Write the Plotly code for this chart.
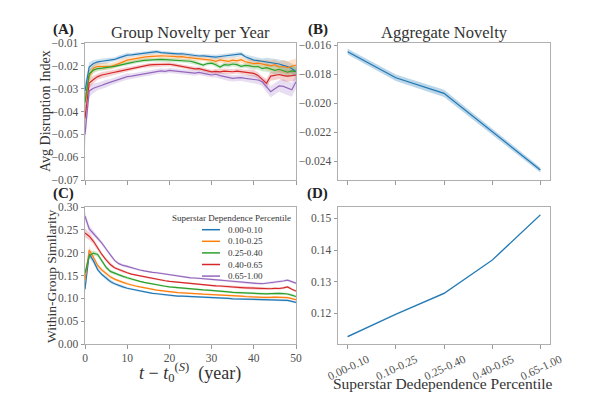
import plotly.graph_objects as go

years = list(range(51))
groups = ["0.00-0.10", "0.10-0.25", "0.25-0.40", "0.40-0.65", "0.65-1.00"]
colors = ["#1f77b4", "#ff7f0e", "#2ca02c", "#d62728", "#9467bd"]

# Panel A: avg disruption index per year
dis_blue = [-0.031, -0.0205, -0.019, -0.0183, -0.018, -0.0178, -0.0175, -0.0172, -0.0165, -0.016, -0.0153, -0.0152, -0.015, -0.0148, -0.0146, -0.0145, -0.0142, -0.0138, -0.0142, -0.0144, -0.0145, -0.0146, -0.0148, -0.0147, -0.015, -0.0153, -0.0155, -0.0157, -0.0156, -0.0158, -0.016, -0.0162, -0.0159, -0.0157, -0.0155, -0.0153, -0.0152, -0.0148, -0.016, -0.0168, -0.0175, -0.0177, -0.018, -0.0183, -0.0185, -0.0187, -0.0192, -0.0198, -0.0203, -0.0212, -0.0226]
dis_orange = [-0.036, -0.0245, -0.021, -0.0202, -0.0203, -0.0202, -0.0203, -0.0198, -0.019, -0.0182, -0.0175, -0.0172, -0.0168, -0.0164, -0.0162, -0.016, -0.0158, -0.0157, -0.0156, -0.0157, -0.0157, -0.0159, -0.0161, -0.016, -0.0163, -0.0165, -0.0168, -0.017, -0.0169, -0.0172, -0.0175, -0.018, -0.0174, -0.0177, -0.018, -0.0175, -0.0178, -0.0173, -0.0182, -0.0186, -0.019, -0.0188, -0.0192, -0.0195, -0.02, -0.0195, -0.0205, -0.0203, -0.0208, -0.0202, -0.0197]
dis_green = [-0.036, -0.0235, -0.0218, -0.0212, -0.021, -0.0208, -0.0206, -0.0202, -0.0198, -0.0193, -0.019, -0.0186, -0.0182, -0.0178, -0.0176, -0.0175, -0.0173, -0.0172, -0.0172, -0.0173, -0.0174, -0.0175, -0.0176, -0.0177, -0.0178, -0.018, -0.0185, -0.019, -0.0197, -0.019, -0.0188, -0.0195, -0.0205, -0.0195, -0.0197, -0.0192, -0.0195, -0.0202, -0.0198, -0.02, -0.0204, -0.0203, -0.0212, -0.0208, -0.0213, -0.022, -0.0215, -0.0222, -0.0228, -0.0222, -0.0225]
dis_red = [-0.043, -0.0275, -0.026, -0.0247, -0.024, -0.0237, -0.0233, -0.0228, -0.0224, -0.022, -0.0216, -0.0212, -0.0207, -0.0203, -0.02, -0.0197, -0.0195, -0.0194, -0.0195, -0.0194, -0.0193, -0.0196, -0.0199, -0.0202, -0.0205, -0.0211, -0.0213, -0.0212, -0.0217, -0.0221, -0.0226, -0.0224, -0.0226, -0.0223, -0.0226, -0.0226, -0.0223, -0.0226, -0.0228, -0.023, -0.0233, -0.0242, -0.026, -0.0277, -0.0245, -0.0242, -0.0238, -0.0243, -0.0245, -0.0243, -0.024]
dis_purple = [-0.05, -0.031, -0.0298, -0.029, -0.0285, -0.0278, -0.0272, -0.0265, -0.0258, -0.0252, -0.0247, -0.0245, -0.0242, -0.0238, -0.0235, -0.0233, -0.023, -0.0225, -0.0222, -0.0224, -0.022, -0.0222, -0.0224, -0.0226, -0.0225, -0.023, -0.0232, -0.0229, -0.0234, -0.0236, -0.024, -0.0237, -0.0243, -0.0246, -0.0252, -0.0255, -0.0253, -0.0252, -0.0255, -0.0257, -0.0258, -0.0262, -0.027, -0.029, -0.0313, -0.03, -0.0288, -0.029, -0.0298, -0.0305, -0.027]
ci_A = [0.004, 0.002, 0.0015, 0.0012, 0.0012, 0.0012] + [0.001] * 5 + [0.0008] * 20 + [0.001] * 8 + [0.0013] * 4 + [0.0018] * 4 + [0.0022] * 4
ci_A_scale = [1.0, 1.3, 1.0, 1.1, 1.4]

# Panel C: within-group similarity per year
sim_blue = [0.12, 0.197, 0.182, 0.163, 0.152, 0.144, 0.137, 0.132, 0.128, 0.125, 0.122, 0.12, 0.118, 0.116, 0.114, 0.113, 0.111, 0.11, 0.109, 0.107, 0.106, 0.1055, 0.105, 0.1048, 0.1045, 0.104, 0.1035, 0.103, 0.1028, 0.1025, 0.102, 0.1018, 0.1012, 0.1005, 0.1, 0.099, 0.0988, 0.0983, 0.098, 0.0975, 0.097, 0.0972, 0.0968, 0.0965, 0.097, 0.0972, 0.0965, 0.0958, 0.0955, 0.0935, 0.091]
sim_orange = [0.14, 0.206, 0.19, 0.172, 0.162, 0.154, 0.147, 0.142, 0.138, 0.135, 0.132, 0.129, 0.127, 0.125, 0.123, 0.121, 0.12, 0.118, 0.117, 0.1155, 0.114, 0.1132, 0.1125, 0.1118, 0.111, 0.11, 0.1098, 0.1095, 0.109, 0.1088, 0.1085, 0.108, 0.1075, 0.107, 0.1065, 0.106, 0.1055, 0.105, 0.104, 0.103, 0.102, 0.1025, 0.1022, 0.1018, 0.102, 0.1028, 0.1025, 0.102, 0.1015, 0.0995, 0.097]
sim_green = [0.155, 0.193, 0.199, 0.196, 0.182, 0.168, 0.159, 0.155, 0.151, 0.148, 0.145, 0.142, 0.14, 0.137, 0.135, 0.133, 0.131, 0.13, 0.128, 0.1265, 0.125, 0.124, 0.123, 0.122, 0.121, 0.12, 0.1195, 0.119, 0.1185, 0.118, 0.1175, 0.117, 0.116, 0.115, 0.114, 0.113, 0.1125, 0.112, 0.111, 0.1105, 0.11, 0.1102, 0.11, 0.1098, 0.1105, 0.111, 0.1108, 0.1102, 0.1095, 0.107, 0.104]
sim_red = [0.243, 0.236, 0.225, 0.21, 0.196, 0.184, 0.174, 0.167, 0.163, 0.159, 0.156, 0.153, 0.151, 0.149, 0.147, 0.145, 0.143, 0.142, 0.14, 0.1385, 0.137, 0.136, 0.135, 0.134, 0.133, 0.132, 0.131, 0.1305, 0.13, 0.129, 0.128, 0.1275, 0.127, 0.126, 0.125, 0.1245, 0.124, 0.1235, 0.123, 0.1225, 0.122, 0.121, 0.1205, 0.12, 0.121, 0.122, 0.1215, 0.123, 0.125, 0.12, 0.116]
sim_purple = [0.28, 0.252, 0.242, 0.232, 0.221, 0.208, 0.195, 0.183, 0.176, 0.172, 0.17, 0.167, 0.164, 0.162, 0.16, 0.158, 0.157, 0.156, 0.1545, 0.153, 0.152, 0.1505, 0.149, 0.148, 0.1465, 0.145, 0.1445, 0.144, 0.143, 0.142, 0.141, 0.1405, 0.14, 0.139, 0.138, 0.137, 0.1365, 0.136, 0.135, 0.134, 0.133, 0.1325, 0.132, 0.133, 0.134, 0.135, 0.136, 0.138, 0.14, 0.136, 0.133]
ci_C = [0.01, 0.008, 0.006, 0.005, 0.004, 0.004, 0.004] + [0.003] * 4 + [0.002] * 20 + [0.0025] * 20

# Panels B and D: aggregate values per percentile group
agg_novelty = [-0.01646, -0.01826, -0.01933, -0.02198, -0.02462]
agg_novelty_ci = [0.0002, 0.00022, 0.00025, 0.0002, 0.00018]
agg_similarity = [0.11264, 0.1197, 0.1263, 0.1368, 0.1511]
agg_similarity_ci = [0.0003, 0.0003, 0.0003, 0.0003, 0.0003]

dis_series = [dis_blue, dis_orange, dis_green, dis_red, dis_purple]
sim_series = [sim_blue, sim_orange, sim_green, sim_red, sim_purple]

FONT = "Liberation Serif"
W, H = 596, 394


def rgba(hex_color, a):
    h = hex_color.lstrip("#")
    r, g, b = int(h[0:2], 16), int(h[2:4], 16), int(h[4:6], 16)
    return f"rgba({r},{g},{b},{a})"


fig = go.Figure()


def add_band(x, y, ci, color, xa, ya, alpha=0.22):
    lo = [v - c for v, c in zip(y, ci)]
    hi = [v + c for v, c in zip(y, ci)]
    fig.add_trace(go.Scatter(x=list(x) + list(x)[::-1], y=hi + lo[::-1], fill="toself",
                             fillcolor=rgba(color, alpha), line=dict(width=0),
                             mode="lines", hoverinfo="skip", showlegend=False,
                             xaxis=xa, yaxis=ya))


for i, (ys, col) in enumerate(zip(dis_series, colors)):
    add_band(years, ys, [c * ci_A_scale[i] for c in ci_A], col, "x", "y")
for ys, col in zip(dis_series, colors):
    fig.add_trace(go.Scatter(x=years, y=ys, mode="lines", line=dict(color=col, width=1.2),
                             showlegend=False, xaxis="x", yaxis="y"))

cat_idx = list(range(len(groups)))
add_band(cat_idx, agg_novelty, agg_novelty_ci, colors[0], "x2", "y2", 0.3)
fig.add_trace(go.Scatter(x=cat_idx, y=agg_novelty, mode="lines", line=dict(color=colors[0], width=1.2),
                         showlegend=False, xaxis="x2", yaxis="y2"))

for ys, col in zip(sim_series, colors):
    add_band(years, ys, ci_C, col, "x3", "y3")
for ys, col, g in zip(sim_series, colors, groups):
    fig.add_trace(go.Scatter(x=years, y=ys, mode="lines", line=dict(color=col, width=1.2),
                             name=g, showlegend=False, xaxis="x3", yaxis="y3"))

add_band(cat_idx, agg_similarity, agg_similarity_ci, colors[0], "x4", "y4", 0.3)
fig.add_trace(go.Scatter(x=cat_idx, y=agg_similarity, mode="lines", line=dict(color=colors[0], width=1.2),
                         showlegend=False, xaxis="x4", yaxis="y4"))

dom_left = [85 / W, 296 / W]
dom_right = [338 / W, 550 / W]
dom_top = [1 - 180 / H, 1 - 43 / H]
dom_bot = [1 - 344 / H, 1 - 207 / H]

axis_common = dict(showline=True, mirror=True, linecolor="#b0b0b0", linewidth=1, automargin=False,
                   ticks="outside", ticklen=3.5, tickcolor="#999", showgrid=False, zeroline=False,
                   tickfont=dict(family=FONT, size=11.5, color="#505050"))

fig.update_layout(
    width=W, height=H, margin=dict(l=0, r=0, t=0, b=0),
    paper_bgcolor="white", plot_bgcolor="white", showlegend=False,
    font=dict(family=FONT, color="#333"),
    xaxis=dict(domain=dom_left, range=[0, 50], tickvals=[0, 10, 20, 30, 40, 50], showticklabels=False,
               anchor="y", **axis_common),
    yaxis=dict(domain=dom_top, range=[-0.07, -0.01], dtick=0.01, tickformat=".2f", anchor="x", **axis_common),
    xaxis2=dict(domain=dom_right, range=[-0.2, 4.2], tickvals=cat_idx, showticklabels=False,
                anchor="y2", **axis_common),
    yaxis2=dict(domain=dom_top, range=[-0.02531, -0.01586], tickvals=[-0.024, -0.022, -0.020, -0.018, -0.016],
                tickformat=".3f", anchor="x2", **axis_common),
    xaxis3=dict(domain=dom_left, range=[0, 50], tickvals=[0, 10, 20, 30, 40, 50], anchor="y3", **axis_common),
    yaxis3=dict(domain=dom_bot, range=[0, 0.30], dtick=0.05, tickformat=".2f", anchor="x3", **axis_common),
    xaxis4=dict(domain=dom_right, range=[-0.2, 4.2], tickvals=cat_idx, ticktext=groups, tickangle=-25,
                ticklabelshift=20, anchor="y4", **axis_common),
    yaxis4=dict(domain=dom_bot, range=[0.1103, 0.1536], tickvals=[0.12, 0.13, 0.14, 0.15],
                tickformat=".2f", anchor="x4", **axis_common),
)

ann = []
shapes = []


def A(text, x, y, size, angle=0, bold=False, color="#333", xanchor="center"):
    ann.append(dict(text=f"<b>{text}</b>" if bold else text, x=x / W, y=1 - y / H,
                    xref="paper", yref="paper", showarrow=False, textangle=angle,
                    font=dict(family=FONT, size=size, color=color), xanchor=xanchor, yanchor="middle"))


A("(A)", 63.5, 29, 15, bold=True, color="#222")
A("Group Novelty per Year", 190, 33, 16.5)
A("(B)", 317.5, 29, 15, bold=True, color="#222")
A("Aggregate Novelty", 444, 33, 16.5)
A("(C)", 63.5, 193, 15, bold=True, color="#222")
A("(D)", 317.5, 193, 15, bold=True, color="#222")
A("Avg Disruption Index", 45, 111, 14, angle=-90)
A("Within-Group Similarity", 51, 276, 13.5, angle=-90)
A("<i>t</i> − <i>t</i><sub>0</sub><sup>(<i>S</i>)</sup>  (year)", 190, 372, 18)
A("Superstar Dedependence Percentile", 443, 383, 15.5)

# Legend for panel C (compact, matplotlib-style)
leg_title_y = 218
leg_row0 = 229.7
leg_dy = 11.6
A("Superstar Dependence Percentile", 231, leg_title_y, 9)
for k, (g, col) in enumerate(zip(groups, colors)):
    yy = leg_row0 + k * leg_dy
    shapes.append(dict(type="line", xref="paper", yref="paper", x0=202 / W, x1=220 / W,
                       y0=1 - yy / H, y1=1 - yy / H, line=dict(color=col, width=1.5)))
    A(g, 226, yy, 9, xanchor="left")

fig.update_layout(annotations=ann, shapes=shapes)

fig.write_html("out.html")
